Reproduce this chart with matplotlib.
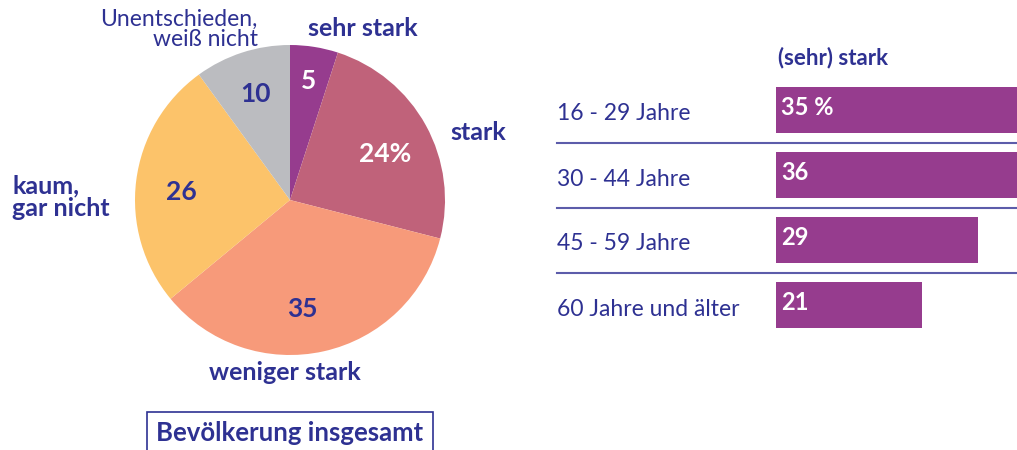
import numpy as np
import matplotlib.pyplot as plt

plt.rcParams['font.family'] = ['Lato', 'DejaVu Sans']

# Daten: Kreisdiagramm (Bevölkerung insgesamt)
pie_labels = ['sehr stark', 'stark', 'weniger stark', 'kaum,\ngar nicht', 'Unentschieden,\nweiß nicht']
pie_values = [5, 24, 35, 26, 10]
pie_texts = ['5', '24%', '35', '26', '10']
pie_colors = ['#963C8E', '#C0627A', '#F79A7A', '#FCC36A', '#BBBCC0']

# Daten: Balken nach Alter, (sehr) stark
age_groups = ['16 - 29 Jahre', '30 - 44 Jahre', '45 - 59 Jahre', '60 Jahre und älter']
age_values = [35, 36, 29, 21]
age_texts = ['35 %', '36', '29', '21']

navy = '#2E3192'
W, H = 1017, 450

fig = plt.figure(figsize=(W / 100, H / 100), dpi=100)


def px_axes(x0, y0, x1, y1):
    # Achsen in Pixelkoordinaten (y von oben)
    return fig.add_axes([x0 / W, 1 - y1 / H, (x1 - x0) / W, (y1 - y0) / H])


# Hintergrundachse für freie Texte
bg = fig.add_axes([0, 0, 1, 1])
bg.set_xlim(0, W)
bg.set_ylim(H, 0)
bg.axis('off')

# Kreis
axp = px_axes(135, 45, 445, 355)
wedges, _ = axp.pie(pie_values, colors=pie_colors, startangle=90, counterclock=False,
                    radius=1, wedgeprops=dict(linewidth=0))
axp.set_xlim(-1, 1)
axp.set_ylim(-1, 1)
axp.set_aspect('equal')
axp.axis('off')

# Werte in den Segmenten
inner_r = [0.78, 0.68, 0.71, 0.70, 0.72]
inner_da = [0, -3, -6, 3, 0]
inner_col = ['white', 'white', navy, navy, navy]
for w, t, r, da, c in zip(wedges, pie_texts, inner_r, inner_da, inner_col):
    ang = np.deg2rad((w.theta1 + w.theta2) / 2 + da)
    axp.text(r * np.cos(ang), r * np.sin(ang), t, ha='center', va='center',
             fontsize=19, fontweight='bold', color=c)

# Beschriftungen außen
bg.text(363, 29, pie_labels[0], ha='center', va='center', fontsize=18, fontweight='bold', color=navy)
bg.text(478, 133, pie_labels[1], ha='center', va='center', fontsize=18, fontweight='bold', color=navy)
bg.text(285, 373, pie_labels[2], ha='center', va='center', fontsize=18, fontweight='bold', color=navy)
bg.text(12, 197, pie_labels[3], ha='left', va='center', fontsize=18, fontweight='bold', color=navy,
        linespacing=1.0)
bg.text(258, 29, pie_labels[4], ha='right', va='center', fontsize=16.5, color=navy, linespacing=0.95)
bg.text(0, -7, 'swirken', ha='left', va='center', fontsize=18, fontweight='bold', color=navy)

# Kasten unten
bg.text(290, 433, 'Bevölkerung insgesamt', ha='center', va='center', fontsize=18.5,
        fontweight='bold', color=navy,
        bbox=dict(boxstyle='square,pad=0.35', facecolor='white', edgecolor=navy, linewidth=1.2))

# Balken
axb = px_axes(776, 77.5, 1017, 337.5)
ypos = np.arange(len(age_values))
axb.barh(ypos, age_values, height=46 / 65, color='#963C8E')
axb.set_xlim(0, 241 / 6.97)
axb.set_ylim(len(age_values) - 0.5, -0.5)
axb.axis('off')
for y, t in zip(ypos, age_texts):
    axb.text(0.7, y - 0.04, t, ha='left', va='center', fontsize=17, fontweight='bold', color='white')

# Altersgruppen und Trennlinien
for i, g in enumerate(age_groups):
    yc = 110 + 65 * i
    bg.text(557, yc + 4, g, ha='left', va='center', fontsize=16.5, color=navy)
    if i < len(age_groups) - 1:
        bg.plot([557, 1017], [yc + 33, yc + 33], color='#5C5CAA', lw=1.5)

bg.text(778, 58, '(sehr) stark', ha='left', va='center', fontsize=16, fontweight='bold', color=navy)

fig.savefig('out.png', dpi=100)
